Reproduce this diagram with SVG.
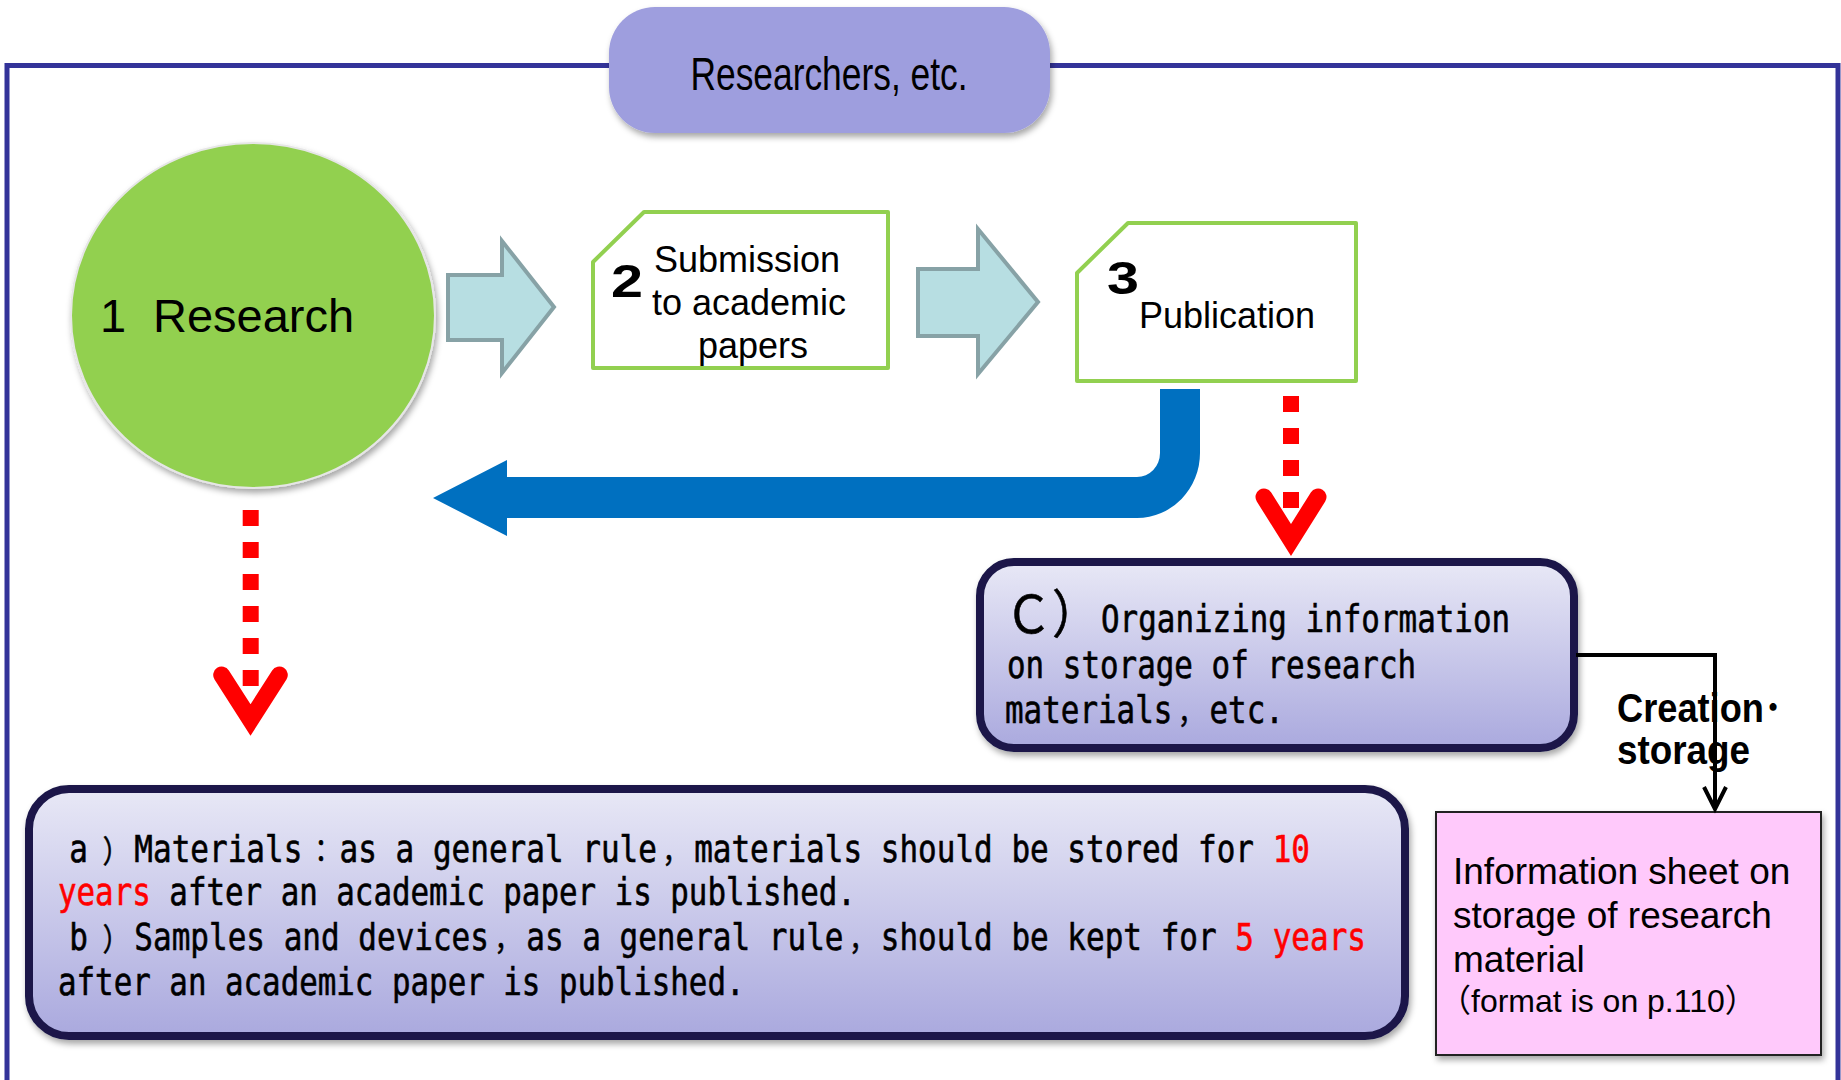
<svg xmlns="http://www.w3.org/2000/svg" width="1841" height="1080" viewBox="0 0 1841 1080">
  <defs>
    <filter id="shadow" x="-10%" y="-15%" width="125%" height="140%">
      <feDropShadow dx="2" dy="4" stdDeviation="3" flood-color="#000" flood-opacity="0.35"/>
    </filter>
    <linearGradient id="boxFill" x1="0" y1="0" x2="0" y2="1">
      <stop offset="0" stop-color="#E8E8F6"/>
      <stop offset="1" stop-color="#AAA9DE"/>
    </linearGradient>
    <style>
      .sans { font-family: "Liberation Sans", Arial, "Noto Sans CJK JP", sans-serif; fill: #000; }
      .mono { font-family: "DejaVu Sans Mono", "Liberation Mono", monospace; font-size: 37px; fill: #000; stroke: #000; stroke-width: 0.6px; }
      /* full-width punctuation: 31px glyph padded to a double cell */
      .fw { font-family: "Noto Sans CJK JP", sans-serif; font-size: 31px; letter-spacing: 6.75px; }
      .red { fill: #FF0000; stroke: #FF0000; }
      .step { fill: #fff; stroke: #92D050; stroke-width: 4; stroke-linejoin: round; }
      .flow { fill: #B7DEE2; stroke: #87A2A6; stroke-width: 4; }
      .note { fill: url(#boxFill); stroke: #1A1848; stroke-width: 8; filter: url(#shadow); }
      .dash { stroke: #FF0000; stroke-width: 16; stroke-dasharray: 16 16; fill: none; }
      .chev { stroke: #FF0000; stroke-width: 17; fill: none; stroke-linecap: round; stroke-linejoin: miter; }
    </style>
  </defs>

  <rect width="1841" height="1080" fill="#fff"/>

  <!-- outer frame -->
  <rect x="7" y="65.5" width="1831" height="1100" fill="none" stroke="#333399" stroke-width="5"/>

  <!-- actor header -->
  <g id="researchers">
    <rect x="609" y="7" width="441" height="126" rx="46" ry="46" fill="#9E9EDE" filter="url(#shadow)"/>
    <text class="sans" x="829" y="90" font-size="46" text-anchor="middle" textLength="277" lengthAdjust="spacingAndGlyphs">Researchers, etc.</text>
  </g>

  <!-- step 1 -->
  <g id="research">
    <ellipse cx="253" cy="315.5" rx="182" ry="172.5" fill="#92D050" stroke="#E6E6E6" stroke-width="2" filter="url(#shadow)"/>
    <text class="sans" x="100" y="332" font-size="47">1<tspan x="153">Research</tspan></text>
  </g>

  <!-- step 2 -->
  <g id="submission">
    <polygon class="step" points="644,212 888,212 888,368 593,368 593,262"/>
    <text class="sans" transform="translate(611,297) scale(1.25,1)" font-size="46" font-weight="bold">2</text>
    <text class="sans" font-size="36" text-anchor="middle">
      <tspan x="752" y="272">Submission</tspan>
      <tspan x="754" y="315">to academic</tspan>
      <tspan x="753" y="358">papers</tspan>
    </text>
  </g>

  <!-- step 3 -->
  <g id="publication">
    <polygon class="step" points="1128,223 1356,223 1356,381 1077,381 1077,273"/>
    <text class="sans" transform="translate(1107,294) scale(1.25,1)" font-size="46" font-weight="bold">3</text>
    <text class="sans" x="1139" y="328" font-size="36">Publication</text>
  </g>

  <!-- C: organizing information -->
  <g id="organizing">
    <rect class="note" x="980" y="562" width="594" height="186" rx="34" ry="34"/>
    <text x="1005" y="633" font-family="'Noto Sans CJK JP', sans-serif" font-size="52" fill="#000" stroke="#000" stroke-width="0.6" textLength="94" lengthAdjust="spacingAndGlyphs">Ｃ）</text>
    <text class="mono" transform="translate(1101,632) scale(0.835,1)">Organizing information</text>
    <text class="mono" transform="translate(1007,678) scale(0.835,1)">on storage of research</text>
    <text class="mono" transform="translate(1005,723) scale(0.835,1)">materials<tspan class="fw" dx="6.75">，</tspan>etc.</text>
  </g>

  <!-- a/b: retention periods -->
  <g id="retention">
    <rect class="note" x="29" y="789" width="1376" height="247" rx="40" ry="40"/>
    <text class="mono" transform="translate(60,862) scale(0.838,1)"><tspan dx="11">a</tspan><tspan class="fw" dx="17.75">）</tspan>Materials<tspan class="fw" dx="6.75">：</tspan>as a general rule<tspan class="fw" dx="6.75">，</tspan>materials should be stored for <tspan class="red">10</tspan></text>
    <text class="mono" transform="translate(58,905) scale(0.833,1)"><tspan class="red">years</tspan> after an academic paper is published.</text>
    <text class="mono" transform="translate(60,950) scale(0.838,1)"><tspan dx="11">b</tspan><tspan class="fw" dx="17.75">）</tspan>Samples and devices<tspan class="fw" dx="6.75">，</tspan>as a general rule<tspan class="fw" dx="6.75">，</tspan>should be kept for <tspan class="red">5 years</tspan></text>
    <text class="mono" transform="translate(58,995) scale(0.833,1)">after an academic paper is published.</text>
  </g>

  <!-- information sheet -->
  <g id="infosheet">
    <rect x="1436" y="812" width="385" height="243" fill="#FFC9FB" stroke="#222" stroke-width="2" filter="url(#shadow)"/>
    <text class="sans" x="1453" font-size="37">
      <tspan x="1453" y="884">Information sheet on</tspan>
      <tspan x="1453" y="928">storage of research</tspan>
      <tspan x="1453" y="972">material</tspan>
    </text>
    <text class="sans" x="1439" y="1012" font-size="32">（format is on p.110）</text>
  </g>

  <!-- connectors -->
  <g id="connectors">
    <!-- forward flow arrows -->
    <polygon class="flow" points="448,275 502,275 502,241 554,307 502,373 502,340 448,340"/>
    <polygon class="flow" points="918,269 978,269 978,229 1038,302 978,374 978,336 918,336"/>

    <!-- feedback arrow from publication back to research -->
    <path d="M1160,389 H1200 V453 A63,65 0 0 1 1137,518 H507 V536 L433,498 L507,460 V477 H1137 A23,24 0 0 0 1160,453 Z" fill="#0070C0"/>

    <!-- dotted red arrows -->
    <line class="dash" x1="250.7" y1="510" x2="250.7" y2="687"/>
    <polyline class="chev" points="221.7,675 250.5,720 279.3,675"/>
    <line class="dash" x1="1291" y1="396" x2="1291" y2="508"/>
    <polyline class="chev" points="1264,497 1291,540 1318,497"/>

    <!-- creation / storage link -->
    <polyline points="1576,655 1715,655 1715,808" fill="none" stroke="#000" stroke-width="4"/>
    <polyline points="1704,787 1715,809 1726,787" fill="none" stroke="#000" stroke-width="4" stroke-linejoin="miter"/>
    <text class="sans" font-size="40" font-weight="bold">
      <tspan x="1617" y="722" textLength="165" lengthAdjust="spacingAndGlyphs">Creation･</tspan>
      <tspan x="1617" y="764" textLength="133" lengthAdjust="spacingAndGlyphs">storage</tspan>
    </text>
  </g>
</svg>
